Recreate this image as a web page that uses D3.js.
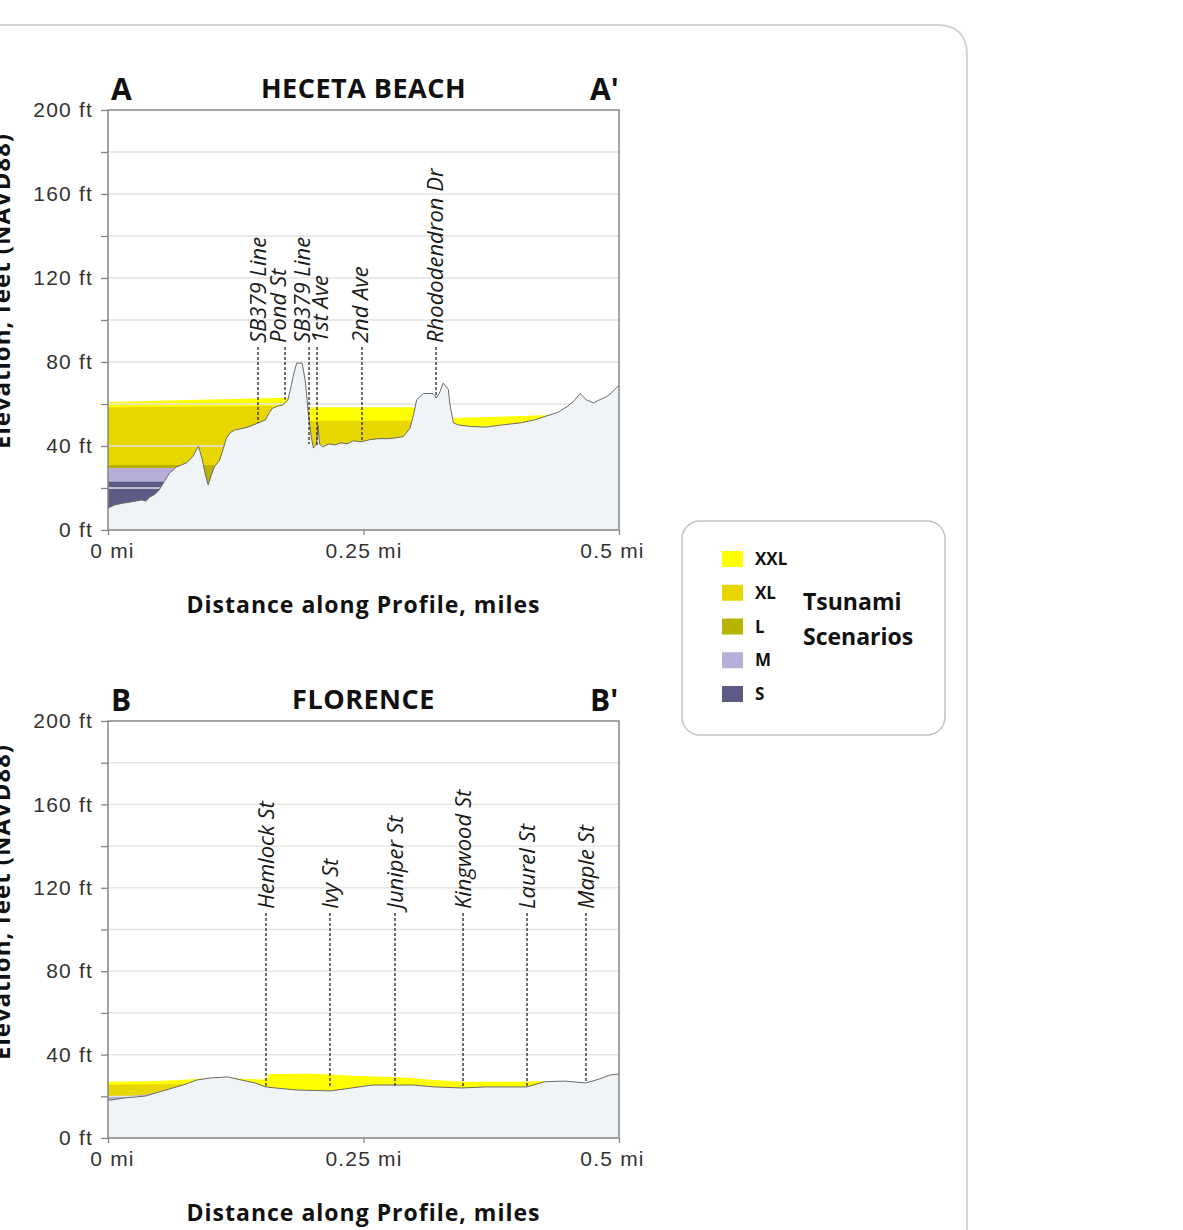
<!DOCTYPE html>
<html>
<head>
<meta charset="utf-8">
<script src="https://cdn.jsdelivr.net/npm/d3@7/dist/d3.min.js"></script>
<style>
    body { margin: 0; background: #fff; }
    svg { display: block; font-family: "Open Sans", sans-serif; }
    .tick text { font-size: 21px; fill: #333; letter-spacing: 1.2px; }
    .tick line, .domain { stroke: #858585; stroke-width: 1.3; }
    .grid line { stroke: #e2e2e2; stroke-width: 1.3; }
    .frame { fill: none; stroke: #858585; stroke-width: 1.5; }
    .terrain { fill: #f0f4f6; }
    .street-line { stroke: #333; stroke-width: 1.4; stroke-dasharray: 3, 2; }
    .street-label { font-size: 22px; font-style: italic; fill: #1a1a1a; }
    .title { font-size: 27px; font-weight: bold; fill: #111; letter-spacing: 0.5px; }
    .end-label { font-size: 30px; font-weight: bold; fill: #111; }
    .axis-title { font-size: 23px; font-weight: bold; fill: #111; letter-spacing: 1px; }
    .legend-label { font-size: 17px; font-weight: bold; fill: #111; }
    .legend-title { font-size: 23px; font-weight: bold; fill: #111; }
</style>
</head>
<body>
<div id="chart"></div>
<script>
// ---- data (distance in miles, elevation in feet) ----
var scenarioNames = ['XXL', 'XL', 'L', 'M', 'S'];

// A - A' Heceta Beach
var hecetaTerrain = [
    [0.000, 10.5], [0.007, 12], [0.016, 12.9], [0.024, 13.5], [0.033, 14.3], [0.037, 13.8],
    [0.041, 15.7], [0.046, 17], [0.050, 19], [0.055, 23], [0.060, 27], [0.067, 30],
    [0.072, 31], [0.077, 32], [0.083, 35], [0.0885, 40], [0.092, 34], [0.095, 27],
    [0.098, 21.5], [0.101, 26], [0.104, 30], [0.109, 33], [0.113, 39], [0.116, 44],
    [0.120, 46.5], [0.124, 47.6], [0.130, 48.2], [0.137, 49], [0.142, 50], [0.147, 51],
    [0.154, 52.4], [0.158, 56], [0.161, 58], [0.166, 59], [0.171, 59.5], [0.176, 62],
    [0.179, 68], [0.181, 73], [0.1846, 79.5], [0.190, 79.5], [0.193, 71], [0.196, 55.7],
    [0.199, 44], [0.201, 39], [0.204, 41], [0.2055, 50], [0.207, 41], [0.210, 39.5],
    [0.216, 41], [0.222, 40.5], [0.228, 41.5], [0.234, 41], [0.240, 42.5], [0.2466, 42],
    [0.252, 42.5], [0.256, 43], [0.265, 43.5], [0.275, 43.5], [0.283, 44], [0.289, 44.5],
    [0.2955, 48.5], [0.299, 55], [0.302, 62], [0.3085, 65], [0.318, 65], [0.3216, 63],
    [0.325, 66], [0.328, 70], [0.333, 67], [0.3345, 60], [0.338, 51], [0.343, 50],
    [0.355, 49.3], [0.370, 49], [0.385, 50], [0.4035, 51], [0.418, 52.5], [0.4305, 54.5],
    [0.440, 56], [0.449, 58.7], [0.455, 61], [0.462, 65], [0.468, 62], [0.475, 60.5],
    [0.481, 62], [0.488, 63.5], [0.493, 65.5], [0.498, 68], [0.500, 69]
];
var hecetaXXL = [[0, 61], [0.09, 62], [0.176, 63], [0.19, 63], [0.196, 56], [0.199, 58.5],
    [0.299, 58.5], [0.305, 55], [0.338, 53.3], [0.39, 54], [0.4325, 54.8]];
var hecetaXL = [[0, 58.5], [0.16, 59], [0.19, 52], [0.299, 52], [0.302, 52]];
var hecetaL = [[0, 31], [0.104, 31]];
var hecetaM = [[0, 29.5], [0.066, 29.5]];
var hecetaS = [[0, 23], [0.056, 23]];
var hecetaStreets = ['SB379 Line', 'Pond St', 'SB379 Line', '1st Ave', '2nd Ave', 'Rhododendron Dr'];
var hecetaStreetMiles = [0.1468, 0.1732, 0.1967, 0.2045, 0.2485, 0.321];
var hecetaStreetFeet = [51, 62, 41, 40, 42, 63];

// B - B' Florence
var florenceTerrain = [
    [0.000, 18.3], [0.0026, 18.2], [0.016, 19.2], [0.0363, 20.1], [0.0566, 23], [0.0734, 25.4],
    [0.0868, 27.8], [0.1003, 28.8], [0.117, 29.3], [0.1306, 27.8], [0.144, 26.4], [0.154, 24.5],
    [0.164, 24], [0.1846, 23], [0.218, 22.6], [0.2385, 24], [0.2587, 25.4], [0.279, 25.4],
    [0.299, 25.4], [0.319, 24.5], [0.346, 24], [0.370, 24.5], [0.393, 24.5], [0.410, 24.5],
    [0.427, 27], [0.447, 27.3], [0.4676, 26.4], [0.481, 28.3], [0.491, 30.2], [0.4996, 30.7],
    [0.500, 30.7]
];
var florenceXXL = [[0, 27], [0.04, 27.2], [0.07, 27.8], [0.09, 28.4], [0.11, 29], [0.13, 28.4],
    [0.154, 28], [0.158, 30.7], [0.2, 30.8], [0.218, 30.5], [0.2385, 29.8], [0.279, 29.3],
    [0.299, 28.6], [0.319, 27.8], [0.346, 27], [0.41, 27], [0.427, 27.3]];
var florenceXL = [[0, 25.5], [0.05, 25.8], [0.072, 25.8]];
var florenceL = [];
var florenceM = [[0, 19.5], [0.016, 20], [0.036, 20.8], [0.05, 22]];
var florenceS = [];
var florenceStreets = ['Hemlock St', 'Ivy St', 'Juniper St', 'Kingwood St', 'Laurel St', 'Maple St'];
var florenceStreetMiles = [0.1546, 0.2172, 0.2808, 0.3474, 0.41, 0.4677];
var florenceStreetFeet = [24.6, 24, 24, 24, 24.6, 26.4];

var yTicks = [0, 20, 40, 60, 80, 100, 120, 140, 160, 180, 200];
var xTicks = [0, 0.25, 0.5];

var scenarioColors = ['#ffff00', '#e8d600', '#b8b200', '#b6aed8', '#5e5a86'];

function drawProfile(svg, p) {
    var x = d3.scaleLinear().domain([0, 0.5]).range([108, 619]);
    var y = d3.scaleLinear().domain([0, 200]).range([p.bottom, p.top]);
    var g = svg.append('g');

    var clipId = 'clip-' + p.id;
    svg.append('clipPath').attr('id', clipId)
        .append('rect')
        .attr('x', x(0)).attr('y', y(200))
        .attr('width', x(0.5) - x(0)).attr('height', y(0) - y(200));

    var plot = g.append('g').attr('clip-path', 'url(#' + clipId + ')');

    // water surfaces, largest scenario first; ground is painted over them
    var water = d3.area()
        .x(function (d) { return x(d[0]); })
        .y0(y(0))
        .y1(function (d) { return y(d[1]); });
    p.scenarios.forEach(function (s, i) {
        if (!s.length) return;
        plot.append('path')
            .datum(s)
            .attr('d', water)
            .attr('fill', scenarioColors[i]);
    });

    // grid
    plot.append('g').attr('class', 'grid')
        .selectAll('line')
        .data(yTicks.slice(1, -1))
        .enter()
        .append('line')
        .attr('x1', x(0)).attr('x2', x(0.5))
        .attr('y1', function (d) { return y(d); })
        .attr('y2', function (d) { return y(d); });

    // ground
    plot.append('path')
        .datum(p.terrain)
        .attr('class', 'terrain')
        .attr('d', water);
    plot.append('path')
        .datum(p.terrain)
        .attr('fill', 'none')
        .attr('stroke', '#6a6a6a')
        .attr('stroke-width', 1)
        .attr('d', d3.line().x(function (d) { return x(d[0]); }).y(function (d) { return y(d[1]); }));

    // frame
    g.append('rect')
        .attr('class', 'frame')
        .attr('x', x(0)).attr('y', y(200))
        .attr('width', x(0.5) - x(0)).attr('height', y(0) - y(200));

    // axes
    var yAxis = g.append('g')
        .attr('transform', 'translate(' + x(0) + ',0)')
        .call(d3.axisLeft(y).tickValues(yTicks).tickSize(7).tickPadding(8)
            .tickFormat(function (d) { return d % 40 === 0 ? d + ' ft' : ''; }));
    yAxis.select('.domain').remove();

    var xAxis = g.append('g')
        .attr('transform', 'translate(0,' + y(0) + ')')
        .call(d3.axisBottom(x).tickValues(xTicks).tickSize(5).tickPadding(8)
            .tickFormat(function (d) { return d + ' mi'; }));
    xAxis.select('.domain').remove();
    xAxis.selectAll('.tick text')
        .attr('dx', function (d) { return d === 0 ? 4 : (d === 0.5 ? -7 : 0); });

    // streets
    var streets = g.append('g');
    var labelShift = p.labelShift || [];
    p.streets.forEach(function (name, i) {
        var sx = x(p.streetMiles[i]);
        streets.append('line')
            .attr('class', 'street-line')
            .attr('x1', sx).attr('x2', sx)
            .attr('y1', p.labelBase + 4)
            .attr('y2', y(p.streetFeet[i]));
        streets.append('text')
            .attr('class', 'street-label')
            .attr('transform', 'translate(' + (sx + (labelShift[i] || 0)) + ',' + p.labelBase + ') rotate(-90)')
            .attr('dy', '0.36em')
            .text(name);
    });

    // titles
    g.append('text').attr('class', 'end-label')
        .attr('x', 111).attr('y', y(200) - 10)
        .text(p.start);
    g.append('text').attr('class', 'end-label')
        .attr('x', 590).attr('y', y(200) - 10)
        .text(p.end);
    g.append('text').attr('class', 'title')
        .attr('x', x(0.25)).attr('y', y(200) - 12)
        .attr('text-anchor', 'middle')
        .text(p.title);

    g.append('text').attr('class', 'axis-title')
        .attr('x', x(0.25)).attr('y', y(0) + 83)
        .attr('text-anchor', 'middle')
        .text('Distance along Profile, miles');

    // the panel cuts this one at the left edge, as in the source figure
    g.append('text').attr('class', 'axis-title')
        .attr('transform', 'translate(10,' + (y(200) + 181) + ') rotate(-90)')
        .attr('text-anchor', 'middle')
        .style('font-size', '24px')
        .text('Elevation, feet (NAVD88)');
}

function main(domSelector) {
    var width = 1183;
    var height = 1230;
    var svg = d3.select(domSelector).append('svg')
        .attr('width', width)
        .attr('height', height);

    // outer panel
    svg.append('path')
        .attr('d', 'M-10,25 L937,25 Q967,25 967,55 L967,1240')
        .attr('fill', 'none')
        .attr('stroke', '#d4d4d4')
        .attr('stroke-width', 2);

    drawProfile(svg, {
        id: 'a', top: 110, bottom: 530,
        title: 'HECETA BEACH', start: 'A', end: "A'",
        terrain: hecetaTerrain,
        scenarios: [hecetaXXL, hecetaXL, hecetaL, hecetaM, hecetaS],
        streets: hecetaStreets, streetMiles: hecetaStreetMiles, streetFeet: hecetaStreetFeet,
        labelBase: 343, labelShift: [0, -7, -7, 3, -2, -1]
    });

    drawProfile(svg, {
        id: 'b', top: 721, bottom: 1138,
        title: 'FLORENCE', start: 'B', end: "B'",
        terrain: florenceTerrain,
        scenarios: [florenceXXL, florenceXL, florenceL, florenceM, florenceS],
        streets: florenceStreets, streetMiles: florenceStreetMiles, streetFeet: florenceStreetFeet,
        labelBase: 909
    });

    // legend
    var legend = svg.append('g');
    legend.append('rect')
        .attr('x', 682).attr('y', 521)
        .attr('width', 263).attr('height', 214)
        .attr('rx', 18)
        .attr('fill', '#fff')
        .attr('stroke', '#c4c4c4')
        .attr('stroke-width', 1.5);
    var ly = d3.scalePoint().domain(scenarioNames).range([559, 694]);
    var rows = legend.selectAll('g.row')
        .data(scenarioNames)
        .enter()
        .append('g')
        .attr('class', 'row')
        .attr('transform', function (d) { return 'translate(0,' + ly(d) + ')'; });
    rows.append('rect')
        .attr('x', 722).attr('y', -8)
        .attr('width', 21).attr('height', 16)
        .attr('fill', function (d, i) { return scenarioColors[i]; });
    rows.append('text')
        .attr('class', 'legend-label')
        .attr('x', 755).attr('y', 6)
        .text(function (d) { return d; });
    legend.append('text').attr('class', 'legend-title')
        .attr('x', 803).attr('y', 610).text('Tsunami');
    legend.append('text').attr('class', 'legend-title')
        .attr('x', 803).attr('y', 645).text('Scenarios');
}

main('#chart');
</script>
</body>
</html>
